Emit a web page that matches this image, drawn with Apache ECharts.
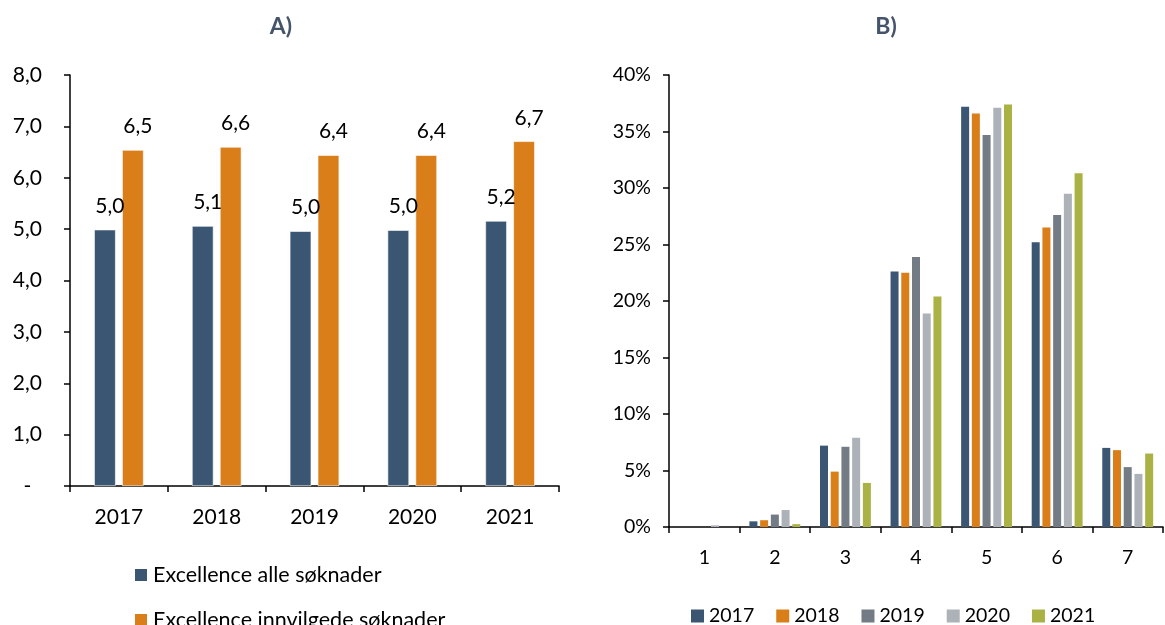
<!DOCTYPE html>
<html>
<head>
<meta charset="utf-8">
<script src="https://cdn.jsdelivr.net/npm/echarts@6/dist/echarts.min.js"></script>
<style>
html, body { margin: 0; padding: 0; background: #fff; }
#main { width: 1165px; height: 625px; }
</style>
</head>
<body>
<div id="main"></div>
<script>
// A) gjennomsnittlig excellence-karakter per år
var yearsA = ['2017', '2018', '2019', '2020', '2021'];
var alleSoknader = [4.99, 5.06, 4.96, 4.98, 5.16];
var innvilgede = [6.54, 6.60, 6.44, 6.44, 6.71];

// B) fordeling av karakterer (andel, %)
var grades = ['1', '2', '3', '4', '5', '6', '7'];
var yearsB = ['2017', '2018', '2019', '2020', '2021'];
var share2017 = [0, 0.5, 7.2, 22.6, 37.2, 25.2, 7.0];
var share2018 = [0, 0.6, 4.9, 22.5, 36.6, 26.5, 6.8];
var share2019 = [0, 1.1, 7.1, 23.9, 34.7, 27.6, 5.3];
var share2020 = [0.15, 1.5, 7.9, 18.9, 37.1, 29.5, 4.7];
var share2021 = [0, 0.25, 3.9, 20.4, 37.4, 31.3, 6.5];
var sharesB = [share2017, share2018, share2019, share2020, share2021];

var nameAlle = 'Excellence alle søknader';
var nameInnv = 'Excellence innvilgede søknader';

var colorsB = ['#3B5673', '#D97E19', '#737B84', '#ADB2B8', '#A9B242'];
var fontFam = 'Lato, "Open Sans", sans-serif';

var myChart = echarts.init(document.getElementById('main'));

function komma(v) {
    return v.toFixed(1).replace('.', ',');
}

var axisLine = { show: true, lineStyle: { color: '#000', width: 1.5 } };
var axisTick = { show: true, length: 6, lineStyle: { color: '#000', width: 1.5 } };

var seriesB = yearsB.map(function (y, i) {
    return {
        name: y,
        type: 'bar',
        xAxisIndex: 1,
        yAxisIndex: 1,
        data: sharesB[i],
        barWidth: 8,
        barGap: '34%',
        itemStyle: { color: colorsB[i] }
    };
});

function legendA(name, top) {
    return {
        orient: 'vertical',
        left: 128,
        top: top,
        itemWidth: 14,
        itemHeight: 14,
        itemGap: 10,
        icon: 'rect',
        data: [name],
        textStyle: { fontSize: 21.5, color: '#000', fontFamily: fontFam }
    };
}

var option = {
    backgroundColor: '#fff',
    animation: false,
    textStyle: { fontFamily: fontFam },
    title: [{
        text: 'A)',
        left: 276,
        top: 10,
        textAlign: 'center',
        textStyle: { color: '#44546A', fontSize: 23, fontWeight: 'bold', fontFamily: fontFam }
    }, {
        text: 'B)',
        left: 881,
        top: 10,
        textAlign: 'center',
        textStyle: { color: '#44546A', fontSize: 23, fontWeight: 'bold', fontFamily: fontFam }
    }],
    legend: [legendA(nameAlle, 559), legendA(nameInnv, 604), {
        orient: 'horizontal',
        left: 686,
        top: 601,
        itemWidth: 13,
        itemHeight: 13,
        itemGap: 22,
        icon: 'rect',
        data: yearsB,
        textStyle: { fontSize: 19.5, color: '#000', fontFamily: fontFam }
    }],
    grid: [{
        left: 70, right: 606, top: 75, bottom: 139
    }, {
        left: 669, right: 2, top: 75, bottom: 98
    }],
    xAxis: [{
        type: 'category',
        gridIndex: 0,
        data: yearsA,
        axisLine: axisLine,
        axisTick: axisTick,
        axisLabel: { color: '#000', fontSize: 21, margin: 21 }
    }, {
        type: 'category',
        gridIndex: 1,
        data: grades,
        axisLine: axisLine,
        axisTick: axisTick,
        axisLabel: { color: '#000', fontSize: 19.5, margin: 21 }
    }],
    yAxis: [{
        type: 'value',
        gridIndex: 0,
        min: 0,
        max: 8,
        interval: 1,
        axisLine: axisLine,
        axisTick: axisTick,
        splitLine: { show: false },
        axisLabel: {
            color: '#000', fontSize: 21, margin: 28,
            formatter: function (v) { return v === 0 ? '-  ' : komma(v); }
        }
    }, {
        type: 'value',
        gridIndex: 1,
        min: 0,
        max: 40,
        interval: 5,
        axisLine: axisLine,
        axisTick: axisTick,
        splitLine: { show: false },
        axisLabel: {
            color: '#000', fontSize: 19.5, margin: 18,
            formatter: function (v) { return v + '%'; }
        }
    }],
    series: [{
        name: nameAlle,
        type: 'bar',
        xAxisIndex: 0,
        yAxisIndex: 0,
        data: alleSoknader,
        barWidth: 21.5,
        barGap: '30%',
        itemStyle: { color: '#3B5673', borderColor: '#fff', borderWidth: 0.6 },
        label: {
            show: true, position: 'top', distance: 13, offset: [5, 0],
            color: '#000', fontSize: 21, fontFamily: fontFam,
            formatter: function (p) { return komma(p.value); }
        }
    }, {
        name: nameInnv,
        type: 'bar',
        xAxisIndex: 0,
        yAxisIndex: 0,
        data: innvilgede,
        barWidth: 21.5,
        barGap: '30%',
        itemStyle: { color: '#D97E19', borderColor: '#fff', borderWidth: 0.6 },
        label: {
            show: true, position: 'top', distance: 13, offset: [5, 0],
            color: '#000', fontSize: 21, fontFamily: fontFam,
            formatter: function (p) { return komma(p.value); }
        }
    }].concat(seriesB)
};

myChart.setOption(option);
</script>
</body>
</html>
